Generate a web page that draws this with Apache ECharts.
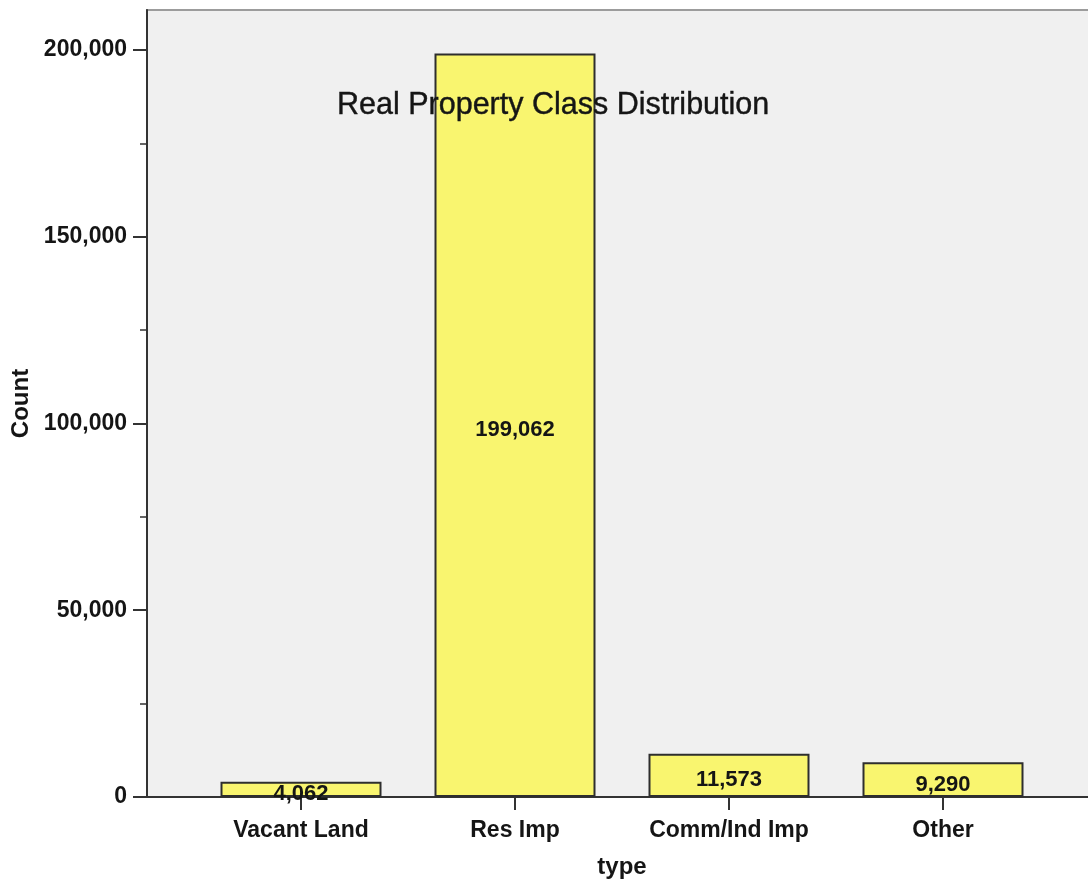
<!DOCTYPE html>
<html>
<head>
<meta charset="utf-8">
<script src="https://cdn.jsdelivr.net/npm/echarts@6/dist/echarts.min.js"></script>
<style>
  html, body { margin: 0; padding: 0; background: #ffffff; overflow: hidden; }
  #chart { width: 1088px; height: 882px; }
</style>
</head>
<body>
<div id="chart"></div>
<script>
// Property class counts
const categories = ['Vacant Land', 'Res Imp', 'Comm/Ind Imp', 'Other'];
const counts = [4062, 199062, 11573, 9290];
const majorTicks = [0, 50000, 100000, 150000, 200000];
const minorTicks = [25000, 75000, 125000, 175000];

const yMax = 210700;
const FONT = '"Liberation Sans", Arial, sans-serif';
const INK = '#151515';
const fmt = v => Number(v).toLocaleString('en-US');

const chart = echarts.init(document.getElementById('chart'), null, { renderer: 'canvas' });

chart.setOption({
  animation: false,
  backgroundColor: '#ffffff',
  title: {
    text: 'Real Property Class Distribution',
    left: 332,
    top: 85,
    textStyle: {
      fontFamily: FONT, fontSize: 30.5, fontWeight: 'normal', color: INK,
      textBorderColor: INK, textBorderWidth: 0.4
    }
  },
  grid: [
    // plot frame and background (runs past the right edge of the canvas)
    { left: 147, width: 950, top: 10, bottom: 85, outerBoundsMode: 'none', containLabel: false,
      show: true, backgroundColor: '#f0f0f0', borderColor: '#9c9c9c', borderWidth: 2 },
    // bar band area
    { left: 194, width: 856, top: 10, bottom: 85, outerBoundsMode: 'none', containLabel: false }
  ],
  xAxis: [
    {
      gridIndex: 0, type: 'value', min: 0, max: 1,
      axisLine: { show: true, lineStyle: { color: '#333333', width: 2 } },
      axisTick: { show: false }, axisLabel: { show: false }, splitLine: { show: false }
    },
    {
      gridIndex: 1, type: 'category', data: categories,
      axisLine: { show: false },
      axisTick: { show: true, alignWithLabel: true, length: 13, interval: 0, lineStyle: { color: '#333333', width: 2 } },
      axisLabel: { interval: 0, margin: 22, fontFamily: FONT, fontSize: 23, fontWeight: 'bold', color: INK },
      splitLine: { show: false },
      name: 'type', nameLocation: 'middle', nameGap: 58,
      nameTextStyle: { fontFamily: FONT, fontSize: 24, fontWeight: 'bold', color: INK }
    }
  ],
  yAxis: [
    {
      gridIndex: 0, type: 'value', min: 0, max: yMax, position: 'left',
      axisLine: { show: true, lineStyle: { color: '#333333', width: 2 } },
      axisTick: { show: true, length: 14, customValues: majorTicks, lineStyle: { color: '#333333', width: 2 } },
      axisLabel: { customValues: majorTicks, margin: 20, formatter: fmt, fontFamily: FONT, fontSize: 23, fontWeight: 'bold', color: INK },
      splitLine: { show: false },
      name: 'Count', nameLocation: 'middle', nameGap: 108, nameRotate: 90,
      nameTextStyle: { fontFamily: FONT, fontSize: 24, fontWeight: 'bold', color: INK }
    },
    {
      gridIndex: 0, type: 'value', min: 0, max: yMax, position: 'left', offset: 0,
      axisLine: { show: false },
      axisTick: { show: true, length: 7, customValues: minorTicks, lineStyle: { color: '#333333', width: 1.5 } },
      axisLabel: { show: false }, splitLine: { show: false }
    },
    {
      gridIndex: 1, type: 'value', min: 0, max: yMax, show: false
    }
  ],
  series: [
    {
      type: 'bar',
      xAxisIndex: 1, yAxisIndex: 2,
      data: counts,
      barWidth: 161,
      itemStyle: { color: '#f9f56f', borderColor: '#2e2e2e', borderWidth: 2 },
      label: {
        show: true, position: 'inside', offset: [0, 5], formatter: p => fmt(p.value),
        fontFamily: FONT, fontSize: 22, fontWeight: 'bold', color: INK
      }
    }
  ]
});
</script>
</body>
</html>
